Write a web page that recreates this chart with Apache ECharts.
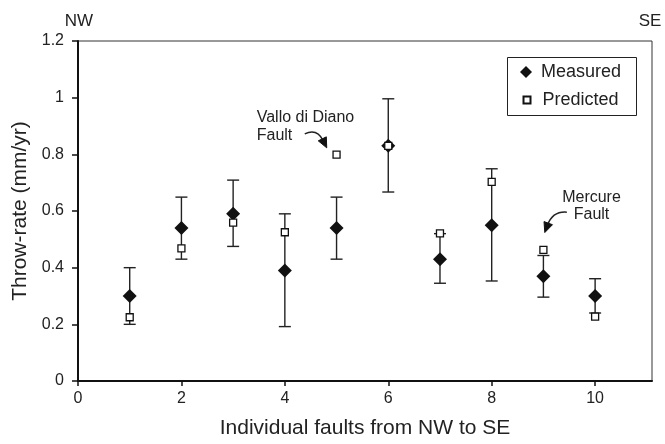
<!DOCTYPE html>
<html>
<head>
<meta charset="utf-8">
<script src="https://cdn.jsdelivr.net/npm/echarts@6/dist/echarts.min.js"></script>
<style>html,body{margin:0;padding:0;background:#fff}#c{width:665px;height:444px}</style>
</head>
<body>
<div id="c"></div>
<script>
// ---- data ----
const faults    = [1, 2, 3, 4, 5, 6, 7, 8, 9, 10];
const measured  = [0.30, 0.54, 0.59, 0.39, 0.54, 0.83, 0.43, 0.55, 0.37, 0.30];
const predicted = [0.225, 0.468, 0.559, 0.525, 0.799, 0.83, 0.521, 0.703, 0.463, 0.227];
const errLow    = [0.20, 0.43, 0.475, 0.192, 0.43, 0.667, 0.345, 0.353, 0.296, 0.24];
const errHigh   = [0.40, 0.649, 0.709, 0.59, 0.649, 0.996, 0.52, 0.749, 0.443, 0.361];
const xTicks    = [0, 2, 4, 6, 8, 10];
const yTicks    = [0, 0.2, 0.4, 0.6, 0.8, 1, 1.2];
const seriesNames = ['Measured', 'Predicted'];
const xTitle = 'Individual faults from NW to SE';
const yTitle = 'Throw-rate (mm/yr)';
// annotation anchors (data coordinates)
const annoTexts = [
  {text: 'Vallo di Diano', at: [3.456, 0.931], align: 'left'},
  {text: 'Fault',          at: [3.456, 0.865], align: 'left'},
  {text: 'Mercure',        at: [9.93, 0.647],  align: 'center'},
  {text: 'Fault',          at: [9.93, 0.587],  align: 'center'}
];
const annoArrows = [
  {from: [4.385, 0.872], ctrl: [4.62, 0.893], to: [4.81, 0.823]},
  {from: [9.453, 0.596], ctrl: [9.18, 0.600], to: [9.027, 0.524]}
];

const FONT = 'Liberation Sans, Arial, sans-serif';
const chart = echarts.init(document.getElementById('c'), null, {renderer: 'canvas'});

const errData = faults.map((f, i) => [f, errLow[i], errHigh[i]]);
const measData = faults.map((f, i) => [f, measured[i]]);
const predData = faults.map((f, i) => [f, predicted[i]]);

chart.setOption({
  animation: false,
  backgroundColor: '#fff',
  textStyle: {fontFamily: FONT},
  grid: {left: 78, right: 13, top: 41, bottom: 62, show: true, borderColor: '#333', borderWidth: 1, backgroundColor: 'transparent'},
  legend: [
    {data: [seriesNames[0]], left: 520, top: 63, padding: 0, itemWidth: 12, itemHeight: 12,
     textStyle: {fontFamily: FONT, fontSize: 18, color: '#222', padding: [0, 0, 0, 4]}, selectedMode: false},
    {data: [seriesNames[1]], left: 522.5, top: 91, padding: 0, itemWidth: 7, itemHeight: 7,
     textStyle: {fontFamily: FONT, fontSize: 18, color: '#222', padding: [0, 0, 0, 7]}, selectedMode: false}
  ],
  xAxis: {
    type: 'value', min: 0, max: 11.1, interval: 2,
    name: xTitle, nameLocation: 'middle', nameGap: 37,
    nameTextStyle: {fontFamily: FONT, fontSize: 21, color: '#222'},
    axisLine: {show: true, onZero: false, lineStyle: {color: '#111', width: 2}},
    axisTick: {show: true, length: 5, lineStyle: {color: '#111', width: 1.5}, customValues: xTicks},
    axisLabel: {fontFamily: FONT, fontSize: 16, color: '#222', margin: 10, customValues: xTicks},
    splitLine: {show: false}
  },
  yAxis: {
    type: 'value', min: 0, max: 1.2, interval: 0.2,
    name: yTitle, nameLocation: 'middle', nameGap: 47, nameRotate: 90,
    nameTextStyle: {fontFamily: FONT, fontSize: 21, color: '#222'},
    axisLine: {show: true, onZero: false, lineStyle: {color: '#111', width: 2}},
    axisTick: {show: true, length: 6, lineStyle: {color: '#111', width: 1.5}, customValues: yTicks},
    axisLabel: {fontFamily: FONT, fontSize: 16, color: '#222', margin: 14, customValues: yTicks,
      formatter: v => String(+v.toFixed(1))},
    splitLine: {show: false}
  },
  series: [
    {
      type: 'custom', name: 'err', data: errData, z: 2, silent: true,
      renderItem: function (params, api) {
        const x = api.value(0);
        const lo = api.coord([x, api.value(1)]);
        const hi = api.coord([x, api.value(2)]);
        const w = 6;
        const st = {stroke: '#222', lineWidth: 1.4};
        return {type: 'group', children: [
          {type: 'line', shape: {x1: lo[0], y1: lo[1], x2: hi[0], y2: hi[1]}, style: st},
          {type: 'line', shape: {x1: lo[0] - w, y1: lo[1], x2: lo[0] + w, y2: lo[1]}, style: st},
          {type: 'line', shape: {x1: hi[0] - w, y1: hi[1], x2: hi[0] + w, y2: hi[1]}, style: st}
        ]};
      }
    },
    {
      type: 'scatter', name: seriesNames[0], data: measData, z: 3,
      symbol: 'diamond', symbolSize: 14,
      itemStyle: {color: '#111', opacity: 1}
    },
    {
      type: 'scatter', name: seriesNames[1], data: predData, z: 4,
      symbol: 'rect', symbolSize: 7,
      itemStyle: {color: '#fff', borderColor: '#111', borderWidth: 1.3, opacity: 1}
    }
  ]
});

// ---- annotations, positioned through the chart's own scales ----
function px(p) { return chart.convertToPixel({gridIndex: 0}, p); }
const g = [];
g.push({type: 'rect', shape: {x: 507.5, y: 57.5, width: 129, height: 58}, style: {fill: 'none', stroke: '#222', lineWidth: 1}, z: 10, silent: true});
g.push({type: 'text', x: 79, y: 21, style: {text: 'NW', font: '17px ' + FONT, fill: '#222', align: 'center', verticalAlign: 'middle'}, z: 10});
g.push({type: 'text', x: 650, y: 21, style: {text: 'SE', font: '17px ' + FONT, fill: '#222', align: 'center', verticalAlign: 'middle'}, z: 10});
annoTexts.forEach(a => {
  const p = px(a.at);
  g.push({type: 'text', x: p[0], y: p[1], style: {text: a.text, font: '16px ' + FONT, fill: '#222', align: a.align, verticalAlign: 'middle'}, z: 10});
});
annoArrows.forEach(a => {
  const s = px(a.from), c = px(a.ctrl), e = px(a.to);
  let dx = e[0] - c[0], dy = e[1] - c[1];
  const L = Math.hypot(dx, dy); dx /= L; dy /= L;
  const hl = 10, hw = 4.5;
  const b = [e[0] - dx * hl, e[1] - dy * hl];
  g.push({type: 'bezierCurve', shape: {x1: s[0], y1: s[1], cpx1: c[0], cpy1: c[1], x2: b[0] + dx * 2, y2: b[1] + dy * 2},
          style: {stroke: '#222', lineWidth: 1.5, fill: 'none'}, z: 10});
  g.push({type: 'polygon', shape: {points: [e, [b[0] - dy * hw, b[1] + dx * hw], [b[0] + dy * hw, b[1] - dx * hw]]},
          style: {fill: '#111', stroke: '#111', lineWidth: 1}, z: 10});
});
chart.setOption({graphic: g});
</script>
</body>
</html>
